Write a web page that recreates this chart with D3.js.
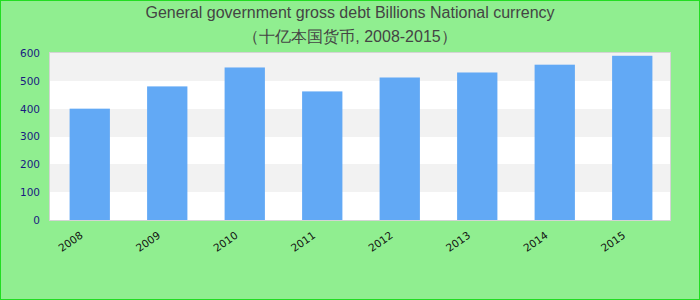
<!DOCTYPE html>
<html>
<head>
<meta charset="utf-8">
<script src="https://cdn.jsdelivr.net/npm/d3@7"></script>
<style>
  html, body { margin: 0; padding: 0; }
  body { width: 700px; height: 300px; overflow: hidden; }
  svg { display: block; }
</style>
</head>
<body>
<svg id="chart" width="700" height="300"></svg>
<script>
'use strict';

const years = ['2008', '2009', '2010', '2011', '2012', '2013', '2014', '2015'];
const debt = [400, 480, 548, 462, 512, 530, 558, 590];
const yTicks = [0, 100, 200, 300, 400, 500, 600];
const titleLines = [
  'General government gross debt Billions National currency',
  '（十亿本国货币, 2008-2015）'
];

(function () {
  const width = 700;
  const height = 300;
  const margin = { top: 53, right: 30, bottom: 80, left: 50 };

  const svg = d3.select('#chart');

  // page background + green frame
  svg.append('rect')
    .attr('x', 0.5).attr('y', 0.5)
    .attr('width', width - 1).attr('height', height - 1)
    .attr('fill', '#90ee90')
    .attr('stroke', '#22dd22')
    .attr('stroke-width', 1);

  svg.append('g')
    .selectAll('text')
    .data(titleLines)
    .join('text')
    .attr('x', width / 2)
    .attr('y', (d, i) => 18 + i * 24)
    .attr('text-anchor', 'middle')
    .attr('font-family', 'Liberation Sans, Arial, sans-serif')
    .attr('font-size', 16)
    .attr('fill', '#444')
    .text((d) => d);

  const x = d3.scaleBand()
    .domain(years)
    .range([margin.left + 1, width - margin.right + 1])
    .paddingInner(0.48)
    .paddingOuter(0.24);

  const y = d3.scaleLinear()
    .domain([0, 600])
    .range([height - margin.bottom, margin.top]);

  // alternating stripes, snapped to whole pixels so no seams show
  const stripes = d3.range(0, 600, 100);
  svg.append('g')
    .selectAll('rect')
    .data(stripes)
    .join('rect')
    .attr('x', margin.left)
    .attr('y', (d) => Math.round(y(d + 100)))
    .attr('width', width - margin.left - margin.right)
    .attr('height', (d) => Math.round(y(d)) - Math.round(y(d + 100)))
    .attr('fill', (d) => ((d / 100) % 2 === 1 ? '#f2f2f2' : '#ffffff'));

  svg.append('g')
    .selectAll('rect')
    .data(debt)
    .join('rect')
    .attr('x', (d, i) => x(years[i]))
    .attr('y', (d) => y(d))
    .attr('width', x.bandwidth())
    .attr('height', (d) => y(0) - y(d))
    .attr('fill', '#62a9f5');

  // plot frame
  svg.append('rect')
    .attr('x', margin.left - 0.5)
    .attr('y', margin.top - 0.5)
    .attr('width', width - margin.left - margin.right + 1)
    .attr('height', height - margin.top - margin.bottom + 1)
    .attr('fill', 'none')
    .attr('stroke', '#d4d4d4')
    .attr('stroke-width', 1);

  const yAxis = svg.append('g')
    .attr('transform', `translate(${margin.left},0)`)
    .call(d3.axisLeft(y).tickValues(yTicks).tickSize(0).tickPadding(10));
  yAxis.select('.domain').remove();
  yAxis.selectAll('text')
    .attr('font-family', 'DejaVu Sans, Verdana, sans-serif')
    .attr('font-size', 10.5)
    .attr('fill', '#1a1a80');

  const xAxis = svg.append('g')
    .attr('transform', `translate(0,${height - margin.bottom})`)
    .call(d3.axisBottom(x).tickSize(0).tickPadding(0));
  xAxis.select('.domain').remove();
  xAxis.selectAll('text')
    .attr('font-family', 'DejaVu Sans, Verdana, sans-serif')
    .attr('font-size', 10.5)
    .attr('fill', '#111')
    .attr('text-anchor', 'end')
    .attr('dy', null)
    .attr('y', null)
    .attr('transform', 'translate(-6,17) rotate(-35)');
})();
</script>
</body>
</html>
